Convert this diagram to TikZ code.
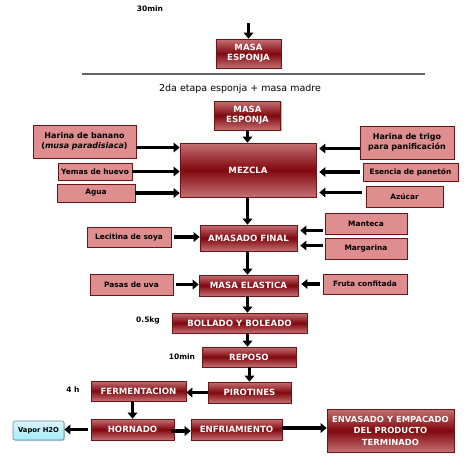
\documentclass[tikz,border=0pt]{standalone}
\usepackage{fontspec}
\setmainfont{DejaVu Sans}
\usepackage{tikz}
\usetikzlibrary{arrows.meta, positioning, calc, shadows}
\definecolor{procdark}{RGB}{128, 8, 14}
\definecolor{proclight}{RGB}{196, 112, 115}
\definecolor{procline}{RGB}{110, 20, 25}
\definecolor{inpink}{RGB}{222, 142, 142}
\definecolor{vapblue}{RGB}{200, 235, 250}
\definecolor{vapline}{RGB}{90, 140, 170}

\begin{document}
\begin{tikzpicture}[x=1pt, y=-1pt,
    procbox/.style={draw=procline, line width=0.6pt, top color=proclight, bottom color=proclight, middle color=procdark,
      text=white, font=\fontsize{8.6}{10}\selectfont\bfseries, align=center, inner sep=1pt,
      drop shadow={shadow xshift=1.4pt, shadow yshift=-1.4pt, fill=black!55}},
    inbox/.style={draw=procline, line width=0.6pt, fill=inpink, text=black, font=\fontsize{7.4}{8.8}\selectfont\bfseries,
      align=center, inner sep=1pt, drop shadow={shadow xshift=1.4pt, shadow yshift=-1.4pt, fill=procline!70!black}},
    note/.style={font=\fontsize{7.5}{9}\selectfont\bfseries},
    flow/.style={draw=black, line width=3.2pt, -{Triangle[length=6pt, width=9.5pt]}}]
  \useasboundingbox (0,0) rectangle (474,456);

  % First stage
  \node[note] (t30) at (150,9) {30min};
  \coordinate (top) at (248.5,23);
  \node[procbox, minimum width=65pt, minimum height=29pt] (ms1) at (248.5,53.5) {MASA\\ESPONJA};
  \draw[flow] (top) -- (ms1.north);
  \draw[gray!80!black, line width=1.2pt] (82,74) -- (425,74);

  % Second stage
  \node[font=\fontsize{9.5}{11}\selectfont] (etapa) at (240,89) {2da etapa esponja + masa madre};
  \node[procbox, minimum width=66pt, minimum height=29pt] (ms2) at (247.5,115.5) {MASA\\ESPONJA};
  \node[procbox, minimum width=136pt, minimum height=54pt] (mezcla) at (248,170) {MEZCLA};

  % Inputs to MEZCLA
  \node[inbox, font=\fontsize{8}{9.8}\selectfont\bfseries, minimum width=103pt, minimum height=33pt] (hban) at (84.5,141.5) {Harina de banano\\(\textit{musa paradisiaca})};
  \node[inbox, minimum width=74pt, minimum height=17pt] (yemas) at (95,171.5) {Yemas de huevo};
  \node[inbox, minimum width=78pt, minimum height=18pt] (agua) at (96,193) {Agua};
  \node[inbox, font=\fontsize{8}{9.8}\selectfont\bfseries, minimum width=94pt, minimum height=33pt] (htrigo) at (407,142.5) {Harina de trigo\\para panificación};
  \node[inbox, minimum width=95pt, minimum height=18pt] (esencia) at (410.5,172) {Esencia de panetón};
  \node[inbox, minimum width=77pt, minimum height=21pt] (azucar) at (404.5,196.5) {Azúcar};

  % Main line
  \node[procbox, minimum width=97pt, minimum height=26pt] (amasado) at (248.5,238) {AMASADO FINAL};
  \node[inbox, minimum width=84pt, minimum height=20pt] (lecitina) at (129,237) {Lecitina de soya};
  \node[inbox, minimum width=82pt, minimum height=21pt] (manteca) at (366,223.5) {Manteca};
  \node[inbox, minimum width=82pt, minimum height=21pt] (margarina) at (366,248.5) {Margarina};
  \node[procbox, minimum width=99pt, minimum height=21pt] (elastica) at (248.5,285.5) {MASA ELASTICA};
  \node[inbox, minimum width=83pt, minimum height=21pt] (pasas) at (131.5,284.5) {Pasas de uva};
  \node[inbox, minimum width=84pt, minimum height=20pt] (fruta) at (365,284) {Fruta confitada};
  \node[procbox, minimum width=135pt, minimum height=20pt] (bollado) at (239.5,323) {BOLLADO Y BOLEADO};
  \node[note] (t05) at (148,320) {0.5kg};
  \node[procbox, minimum width=94pt, minimum height=20pt] (reposo) at (249,357) {REPOSO};
  \node[note] (t10) at (182,357) {10min};
  \node[procbox, minimum width=83pt, minimum height=21pt] (pirotines) at (249.5,392.5) {PIROTINES};
  \node[procbox, minimum width=95pt, minimum height=20pt] (ferm) at (138.5,391) {FERMENTACION};
  \node[note] (t4h) at (73,390) {4 h};
  \node[procbox, minimum width=83pt, minimum height=21pt] (hornado) at (132.5,429.5) {HORNADO};
  \node[draw=vapline, line width=0.6pt, rounded corners=2pt, top color=vapblue!60, bottom color=vapblue!80!cyan,
    font=\fontsize{6.8}{8}\selectfont\bfseries, minimum width=51pt, minimum height=19pt, inner sep=1pt,
    drop shadow={shadow xshift=1pt, shadow yshift=-1pt, fill=black!40}] (vapor) at (38.5,430.5) {Vapor H2O};
  \node[procbox, minimum width=91pt, minimum height=21pt] (enfri) at (236.5,429.5) {ENFRIAMIENTO};
  \node[procbox, font=\fontsize{8.4}{11.5}\selectfont\bfseries, minimum width=127pt, minimum height=43pt] (envasado) at (390.5,430.5) {ENVASADO Y EMPACADO\\DEL PRODUCTO\\TERMINADO};

  % Connectors
  \draw[flow] (ms2.south) -- (ms2.south |- mezcla.north);
  \draw[flow] ([yshift=-6pt]hban.east) -- ([yshift=-6pt]hban.east -| mezcla.west);
  \draw[flow] (yemas.east) -- (yemas.east -| mezcla.west);
  \draw[flow] (agua.east) -- (agua.east -| mezcla.west);
  \draw[flow] ([yshift=-6pt]htrigo.west) -- ([yshift=-6pt, xshift=3pt]htrigo.west -| mezcla.east);
  \draw[flow] ([xshift=-3pt]esencia.west) -- ([xshift=3pt]esencia.west -| mezcla.east);
  \draw[flow] ([xshift=-4pt, yshift=4pt]azucar.west) -- ([xshift=3pt, yshift=4pt]azucar.west -| mezcla.east);
  \draw[flow] (mezcla.south -| ms2.south) -- (ms2.south |- amasado.north);
  \draw[flow] ([xshift=3pt]lecitina.east) -- (lecitina.east -| amasado.west);
  \draw[flow] ([xshift=-2pt, yshift=-7pt]manteca.west) -- ([xshift=3pt, yshift=-7pt]manteca.west -| amasado.east);
  \draw[flow] ([xshift=-2pt, yshift=3pt]margarina.west) -- ([xshift=3pt, yshift=3pt]margarina.west -| amasado.east);
  \draw[flow] (amasado.south -| ms2.south) -- (ms2.south |- elastica.north);
  \draw[flow] ([xshift=3pt]pasas.east) -- (pasas.east -| elastica.west);
  \draw[flow] ([xshift=-3pt]fruta.west) -- ([xshift=3pt]fruta.west -| elastica.east);
  \draw[flow] (elastica.south -| ms2.south) -- (ms2.south |- bollado.north);
  \draw[flow] (bollado.south -| ms2.south) -- (ms2.south |- reposo.north);
  \draw[flow] (reposo.south -| pirotines.north) -- (pirotines.north);
  \draw[flow] (pirotines.west) -- (pirotines.west -| ferm.east);
  \draw[flow] ([xshift=-6pt]ferm.south) -- ([xshift=-6pt]ferm.south |- hornado.north);
  \draw[flow] ([xshift=-3pt]hornado.west) -- (hornado.west -| vapor.east);
  \draw[flow] ([xshift=-3pt, yshift=-1.5pt]hornado.east) -- ([yshift=-1.5pt]hornado.east -| enfri.west);
  \draw[flow] ([yshift=1.5pt]enfri.east) -- ([yshift=1.5pt]enfri.east -| envasado.west);
\end{tikzpicture}
\end{document}
